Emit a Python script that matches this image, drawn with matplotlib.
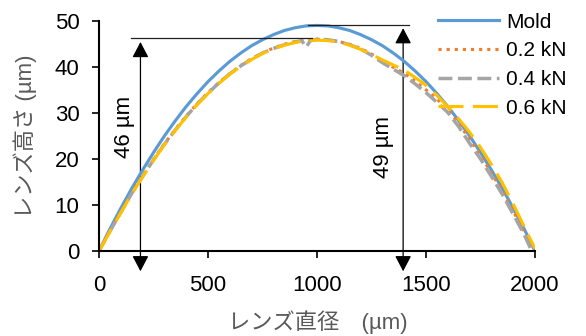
import matplotlib.pyplot as plt
from matplotlib.patches import FancyArrowPatch

plt.rcParams['font.family'] = ['Liberation Sans', 'Noto Sans CJK JP']

# lens profile data (um), read every 50 um
x_mold = [0, 50, 100, 150, 200, 250, 300, 350, 400, 450, 500, 550, 600, 650, 700, 750,
          800, 850, 900, 950, 1000, 1050, 1100, 1150, 1200, 1250, 1300, 1350, 1400,
          1450, 1500, 1550, 1600, 1650, 1700, 1750, 1800, 1850, 1900, 1950, 2000]
y_mold = [0, 4.8, 9.3, 13.6, 17.6, 21.4, 25.0, 28.3, 31.4, 34.2, 36.8, 39.1, 41.2, 43.0,
          44.6, 45.9, 47.0, 47.9, 48.5, 48.9, 49.0, 48.9, 48.5, 47.9, 47.0, 45.9, 44.6,
          43.0, 41.2, 39.1, 36.8, 34.2, 31.4, 28.3, 25.0, 21.4, 17.6, 13.6, 9.3, 4.8, 0]

x_02 = [0, 50, 100, 150, 200, 250, 300, 350, 400, 450, 500, 550, 600, 650, 700, 750,
        800, 850, 900, 950, 1000, 1050, 1100, 1150, 1200, 1250, 1300, 1350, 1400,
        1450, 1500, 1550, 1600, 1650, 1700, 1750, 1800, 1850, 1900, 1950, 1990]
y_02 = [0, 4.4, 8.5, 12.6, 16.3, 19.9, 23.3, 26.4, 29.3, 32.0, 34.4, 36.6, 38.5, 40.3,
        41.8, 43.0, 44.1, 44.9, 45.5, 45.9, 46.0, 45.9, 45.5, 44.9, 44.0, 42.8, 41.3,
        39.9, 38.6, 36.9, 35.0, 33.0, 30.8, 27.7, 24.3, 20.8, 17.0, 13.0, 8.7, 4.2, 0]

x_04 = [0, 50, 100, 150, 200, 250, 300, 350, 400, 450, 500, 550, 600, 650, 700, 750,
        800, 850, 900, 930, 950, 970, 1000, 1050, 1100, 1150, 1200, 1250, 1300, 1350, 1400,
        1450, 1500, 1550, 1600, 1650, 1700, 1750, 1800, 1850, 1900, 1950, 1985]
y_04 = [0, 4.3, 8.4, 12.5, 16.2, 19.8, 23.2, 26.3, 29.2, 31.9, 34.3, 36.5, 38.5, 40.2,
        41.7, 43.0, 44.0, 44.8, 45.4, 45.7, 44.3, 45.7, 46.0, 45.9, 45.5, 44.8, 43.9,
        42.5, 40.9, 39.5, 38.1, 36.3, 34.4, 32.3, 30.1, 27.0, 23.4, 20.0, 16.2, 12.3,
        8.0, 3.6, 0]

x_06 = [0, 50, 100, 150, 200, 250, 300, 350, 400, 450, 500, 550, 600, 650, 700, 750,
        800, 850, 900, 950, 1000, 1050, 1100, 1150, 1200, 1250, 1300, 1350, 1400,
        1450, 1500, 1550, 1600, 1650, 1700, 1750, 1800, 1850, 1900, 1950, 2000]
y_06 = [0, 4.2, 8.3, 12.4, 16.1, 19.7, 23.1, 26.2, 29.1, 31.8, 34.2, 36.4, 38.4, 40.1,
        41.6, 42.9, 43.9, 44.7, 45.3, 45.7, 45.8, 45.7, 45.4, 44.7, 43.8, 42.7, 41.5,
        40.4, 39.3, 37.7, 36.0, 33.8, 31.3, 28.7, 25.8, 22.5, 18.8, 14.8, 10.2, 5.3, 0.5]

fig = plt.figure(figsize=(5.86, 3.36), dpi=100)
ax = fig.add_axes([0.169, 0.253, 0.744, 0.685])

ax.plot(x_mold, y_mold, color='#5B9BD5', lw=2.25, label='Mold')
ax.plot(x_02, y_02, color='#ED7D31', lw=2.25, ls=(0, (1, 1.6)), label='0.2 kN')
ax.plot(x_04, y_04, color='#A5A5A5', lw=2.5, ls=(0, (4, 1.6)), label='0.4 kN')
ax.plot(x_06, y_06, color='#FFC000', lw=2.25, ls=(0, (8, 3)), label='0.6 kN')

# height annotations
ax.plot([147, 975], [46.2, 46.2], color='#222222', lw=0.9, clip_on=False)
ax.plot([960, 1420], [49.2, 49.2], color='#222222', lw=0.9, clip_on=False)
for xa, ytop in [(190, 45.4), (1395, 48.4)]:
    arr = FancyArrowPatch((xa, -4.4), (xa, ytop),
                          arrowstyle='<|-|>,head_length=0.95,head_width=0.5',
                          mutation_scale=10, color='black', lw=0.9,
                          shrinkA=0, shrinkB=0, clip_on=False)
    ax.add_patch(arr)
ax.text(119, 27, '46 µm', rotation=90, ha='center', va='center', fontsize=16)
ax.text(1303, 22.5, '49 µm', rotation=90, ha='center', va='center', fontsize=16)

ax.set_xlim(0, 2000)
ax.set_ylim(0, 50)
ax.set_xticks([0, 500, 1000, 1500, 2000])
ax.set_yticks([0, 10, 20, 30, 40, 50])
ax.spines['top'].set_visible(False)
ax.spines['right'].set_visible(False)
ax.spines['left'].set_linewidth(1.5)
ax.spines['bottom'].set_linewidth(1.5)
ax.tick_params(labelsize=16, width=1.2, length=5, direction='out')
ax.tick_params(axis='x', pad=12)
ax.tick_params(axis='y', pad=9)

ax.set_xlabel('レンズ直径　(µm)', fontsize=16, color='#595959')
ax.set_ylabel('レンズ高さ (µm)', fontsize=16, color='#595959')
ax.xaxis.set_label_coords(0.502, -0.256)
ax.yaxis.set_label_coords(-0.142, 0.5)

fig.legend(loc='upper left', bbox_to_anchor=(0.748, 0.962), frameon=False,
           fontsize=15, handlelength=2.9, handletextpad=0.34,
           labelspacing=0.46, borderpad=0, borderaxespad=0)

plt.savefig('out.png')
